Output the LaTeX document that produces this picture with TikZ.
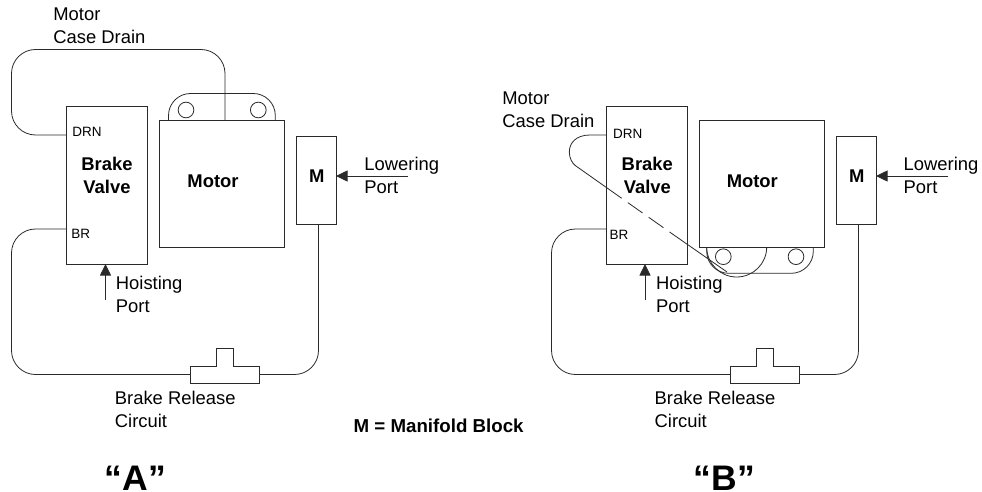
\documentclass[tikz,border=0pt]{standalone}
\usepackage{fontspec}
\setmainfont{Liberation Sans}
\usepackage{tikz}
\usetikzlibrary{positioning,arrows.meta}
\definecolor{pipegray}{HTML}{2A2A2A}

\begin{document}
\begin{tikzpicture}[
  x=1pt, y=-1pt,
  line width=0.8pt, draw=pipegray,
  block/.style={draw=pipegray, rectangle, inner sep=0pt, outer sep=0pt},
  valvebox/.style={block, minimum width=80.5pt, minimum height=157.5pt},
  motorbox/.style={block, minimum width=125pt, minimum height=127pt},
  mbox/.style={block, minimum width=40pt, minimum height=87.5pt},
  bolt/.style={block, circle, minimum size=15.7pt},
  teebar/.style={rectangle, inner sep=0pt, outer sep=0pt, minimum width=68.5pt, minimum height=17pt},
  teestub/.style={rectangle, inner sep=0pt, outer sep=0pt, minimum width=17pt, minimum height=17.5pt},
  pipe/.style={rounded corners=24pt},
  portarrow/.style={-{Triangle[length=11.5pt,width=11pt]}},
  txt/.style={font=\fontsize{18.4}{23}\selectfont, align=left, inner sep=0pt, anchor=base west},
  bold/.style={font=\fontsize{18.4}{23}\selectfont\bfseries, align=center, inner sep=0pt, anchor=base},
  small/.style={font=\fontsize{13.5}{16}\selectfont, inner sep=0pt, anchor=base west},
  panel/.style={font=\fontsize{35.5}{40}\selectfont\bfseries, inner sep=0pt, anchor=base west},
]
\useasboundingbox (0,0) rectangle (982,492);

% panel A
\node[valvebox] (valveA) at (106.75,185.25) {};
\node[motorbox, right=12.5pt of valveA, yshift=1.6pt] (motorA) {};
\node[mbox, right=11.5pt of motorA, yshift=3.4pt] (mA) {};
\node[bolt] (boltA) at (186,110) {};
\node[bolt] (boltB) at (258.3,110) {};
\node[teebar] (teeA) at (224.75,374.5) {};
\node[teestub, above=0pt of teeA] (stubA) {};
\coordinate (drnA) at (valveA.west |- 0,135);
\coordinate (brA) at (valveA.west |- 0,229);
\coordinate (drainA) at (225,120);
\coordinate (mportA) at (318.5,224);
\coordinate (hoistA) at (105.5,300);
\coordinate (lowerA) at (408,176);

\draw[rounded corners=22pt] (168.5,120) -- (168.5,93.5) -- (275.3,93.5) -- (275.3,120);
\draw[pipe] (drnA) -- (11.5,135) -- (11.5,49.5) -- (225,49.5) -- (drainA);
\draw[pipe] (brA) -- (11.5,229) -- (11.5,374.5) -- (teeA.west);
\draw[pipe] (teeA.east) -| (mportA);
\draw (teeA.north west) -- (stubA.south west) |- (stubA.north east) -- (stubA.south east) -- (teeA.north east) |- (teeA.south west) -- cycle;
\draw[portarrow] (hoistA) -- (hoistA |- valveA.south);
\draw[portarrow] (lowerA) -- (lowerA -| mA.east);

\node[txt] (caseA) at (53,44) {Motor\\Case Drain};
\node[small] (drntextA) at (72,136) {DRN};
\node[small] (brtextA) at (71,238) {BR};
\node[bold] (valvetextA) at (107,193) {Brake\\Valve};
\node[bold] (motortextA) at (213,187) {Motor};
\node[bold] (mtextA) at (316.7,182) {M};
\node[txt] (hoisttextA) at (115.5,312) {Hoisting\\Port};
\node[txt] (lowertextA) at (364,193) {Lowering\\Port};
\node[txt] (circuitA) at (114.5,427) {Brake Release\\Circuit};
\node[panel] (titleA) at (104.3,490) {“A”};

\node[font=\fontsize{18.7}{23}\selectfont\bfseries, inner sep=0pt, anchor=base west] (legend) at (353.3,432.7) {M = Manifold Block};

% panel B
\node[valvebox] (valveB) at (646.75,185.25) {};
\node[motorbox, right=12.5pt of valveB, yshift=1.6pt] (motorB) {};
\node[mbox, right=11.5pt of motorB, yshift=3.4pt] (mB) {};
\node[bolt] (boltC) at (723.3,256.7) {};
\node[bolt] (boltD) at (796,256.7) {};
\node[teebar] (teeB) at (764.75,374.5) {};
\node[teestub, above=0pt of teeB] (stubB) {};
\coordinate (drnB) at (valveB.west |- 0,135);
\coordinate (brB) at (valveB.west |- 0,229);
\coordinate (gapB) at (621.7,198.3);
\coordinate (gapC) at (670,232.3);
\coordinate (mportB) at (858.5,224);
\coordinate (hoistB) at (645,300);
\coordinate (lowerB) at (948.3,176);

\draw[rounded corners=22pt] (706.7,247) -- (706.7,273.3) -- (813.3,273.3) -- (813.3,247);
\draw (766.7,247) arc[start angle=0, end angle=180, radius=30];
\draw (drnB) -- (590,135) .. controls (576,135) and (569.3,143) .. (569.3,152) .. controls (569.3,158) and (572,163) .. (575.5,165.7) -- (gapB);
\draw[dash pattern=on 18pt off 7.5pt, dash phase=18pt] (gapB) -- (gapC);
\draw (gapC) -- (727,272);
\draw[pipe] (brB) -- (551.5,229) -- (551.5,374.5) -- (teeB.west);
\draw[pipe] (teeB.east) -| (mportB);
\draw (teeB.north west) -- (stubB.south west) |- (stubB.north east) -- (stubB.south east) -- (teeB.north east) |- (teeB.south west) -- cycle;
\draw[portarrow] (hoistB) -- (hoistB |- valveB.south);
\draw[portarrow] (lowerB) -- (lowerB -| mB.east);

\node[txt] (caseB) at (502,127.3) {Motor\\Case Drain};
\node[small] (drntextB) at (612.7,138.3) {DRN};
\node[small] (brtextB) at (609.3,239.3) {BR};
\node[bold] (valvetextB) at (647.3,193) {Brake\\Valve};
\node[bold] (motortextB) at (752.3,187.3) {Motor};
\node[bold] (mtextB) at (856.7,182) {M};
\node[txt] (hoisttextB) at (655.7,312) {Hoisting\\Port};
\node[txt] (lowertextB) at (903.3,193) {Lowering\\Port};
\node[txt] (circuitB) at (654.3,427) {Brake Release\\Circuit};
\node[panel] (titleB) at (693.3,490) {“B”};
\end{tikzpicture}
\end{document}
